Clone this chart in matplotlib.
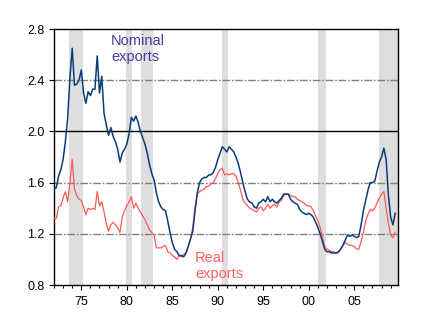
import numpy as np
import matplotlib
matplotlib.use("Agg")
import matplotlib.pyplot as plt

plt.rcParams['font.family'] = ['Liberation Sans', 'DejaVu Sans']

# quarterly data, 1972Q1 .. 2009Q3
start_year = 1972.0
nominal = [
    1.55, 1.56, 1.65, 1.70, 1.78, 1.92, 2.10, 2.42, 2.65, 2.36,
    2.37, 2.40, 2.48, 2.30, 2.22, 2.31, 2.28, 2.33, 2.33, 2.59,
    2.30, 2.43, 2.14, 2.05, 1.97, 2.03, 1.96, 1.92, 1.86, 1.76,
    1.83, 1.86, 1.90, 1.98, 2.11, 2.08, 2.12, 2.07, 2.00, 1.95,
    1.90, 1.83, 1.74, 1.67, 1.62, 1.52, 1.45, 1.41, 1.39, 1.38,
    1.30, 1.21, 1.13, 1.08, 1.06, 1.03, 1.03, 1.02, 1.05, 1.10,
    1.16, 1.22, 1.38, 1.52, 1.60, 1.63, 1.64, 1.64, 1.66, 1.66,
    1.68, 1.72, 1.78, 1.83, 1.88, 1.86, 1.84, 1.88, 1.86, 1.84,
    1.80, 1.75, 1.68, 1.60, 1.53, 1.47, 1.45, 1.44, 1.41, 1.40,
    1.44, 1.45, 1.47, 1.45, 1.49, 1.45, 1.47, 1.45, 1.44, 1.46,
    1.48, 1.51, 1.51, 1.51, 1.47, 1.45, 1.44, 1.43, 1.39, 1.37,
    1.36, 1.35, 1.36, 1.35, 1.33, 1.29, 1.25, 1.20, 1.14, 1.08,
    1.06, 1.06, 1.05, 1.05, 1.05, 1.06, 1.08, 1.11, 1.15, 1.19,
    1.18, 1.19, 1.18, 1.17, 1.18, 1.27, 1.38, 1.46, 1.54, 1.60,
    1.60, 1.61, 1.69, 1.76, 1.80, 1.87, 1.78, 1.50, 1.33, 1.27,
    1.36,
]
real = [
    1.32, 1.32, 1.41, 1.42, 1.48, 1.53, 1.45, 1.60, 1.78, 1.55,
    1.50, 1.47, 1.46, 1.41, 1.35, 1.40, 1.39, 1.40, 1.39, 1.53,
    1.42, 1.45, 1.37, 1.28, 1.22, 1.27, 1.29, 1.27, 1.25, 1.21,
    1.33, 1.38, 1.42, 1.45, 1.49, 1.40, 1.44, 1.40, 1.37, 1.34,
    1.31, 1.27, 1.23, 1.21, 1.19, 1.09, 1.09, 1.09, 1.10, 1.11,
    1.06, 1.05, 1.03, 1.02, 1.00, 1.03, 1.02, 1.04, 1.05, 1.10,
    1.16, 1.25, 1.41, 1.51, 1.53, 1.54, 1.55, 1.57, 1.57, 1.59,
    1.60, 1.63, 1.67, 1.70, 1.71, 1.66, 1.67, 1.66, 1.67, 1.67,
    1.65, 1.60, 1.54, 1.47, 1.44, 1.42, 1.40, 1.39, 1.38, 1.37,
    1.40, 1.41, 1.38, 1.40, 1.43, 1.40, 1.42, 1.43, 1.41, 1.45,
    1.46, 1.50, 1.51, 1.51, 1.50, 1.49, 1.49, 1.47, 1.46, 1.45,
    1.44, 1.42, 1.42, 1.41, 1.38, 1.34, 1.30, 1.25, 1.18, 1.10,
    1.08, 1.07, 1.06, 1.06, 1.05, 1.05, 1.08, 1.11, 1.13, 1.12,
    1.11, 1.11, 1.10, 1.08, 1.08, 1.14, 1.21, 1.30, 1.35, 1.39,
    1.38, 1.40, 1.44, 1.48, 1.51, 1.53, 1.40, 1.28, 1.19, 1.17,
    1.21,
]
recession_start = [1973.67, 1979.92, 1981.58, 1990.46, 2001.0, 2007.71]
recession_end = [1975.17, 1980.58, 1982.88, 1991.12, 2001.88, 2009.75]

y_ticks = [0.8, 1.2, 1.6, 2.0, 2.4, 2.8]
x_major = [1975, 1980, 1985, 1990, 1995, 2000, 2005]
x_labels = ["75", "80", "85", "90", "95", "00", "05"]
x_minor = list(range(1972, 2010))
dash_grid = [1.2, 1.6, 2.4]
solid_grid = [2.0]

years = start_year + np.arange(len(nominal)) / 4.0

fig = plt.figure(figsize=(4.28, 3.31), dpi=100)
ax = fig.add_axes([54 / 428, 1 - 285 / 331, 343.5 / 428, 256 / 331])

for s, e in zip(recession_start, recession_end):
    ax.axvspan(s, e, color="#dedede", lw=0, zorder=0)

for g in dash_grid:
    ax.axhline(g, color="#808080", lw=1.0, dashes=(5.5, 1.3, 1.2, 1.3), zorder=1)
for g in solid_grid:
    ax.axhline(g, color="black", lw=1.0, zorder=1)

ax.plot(years, real, color="#ff5858", lw=0.9, zorder=3)
ax.plot(years, nominal, color="#0a3d7a", lw=1.1, zorder=4)

ax.set_xlim(1972.0, 2009.75)
ax.set_ylim(0.8, 2.8)
ax.set_yticks(y_ticks)
ax.set_yticklabels([f"{v:.1f}" for v in y_ticks])
ax.set_xticks(x_major)
ax.set_xticklabels(x_labels)
ax.set_xticks(x_minor, minor=True)

ax.tick_params(axis="both", which="major", direction="out", length=3.8, width=0.8,
               labelsize=9, colors="black")
ax.tick_params(axis="y", which="major", pad=3)
ax.tick_params(axis="x", which="major", pad=4)
ax.tick_params(axis="x", which="minor", direction="out", length=2.2, width=0.8)
ax.tick_params(axis="y", which="minor", left=False)

for sp in ax.spines.values():
    sp.set_linewidth(1.0)
    sp.set_color("black")

ax.text(1978.26, 2.675, "Nominal", color="#4a3a9c", fontsize=10.5, va="baseline", ha="left", zorder=5)
ax.text(1978.26, 2.55, "exports", color="#4a3a9c", fontsize=10.5, va="baseline", ha="left", zorder=5)
ax.text(1987.49, 0.98, "Real", color="#ff6060", fontsize=10.5, va="baseline", ha="left", zorder=5)
ax.text(1987.49, 0.855, "exports", color="#ff6060", fontsize=10.5, va="baseline", ha="left", zorder=5)

fig.savefig("out.png", dpi=100)
